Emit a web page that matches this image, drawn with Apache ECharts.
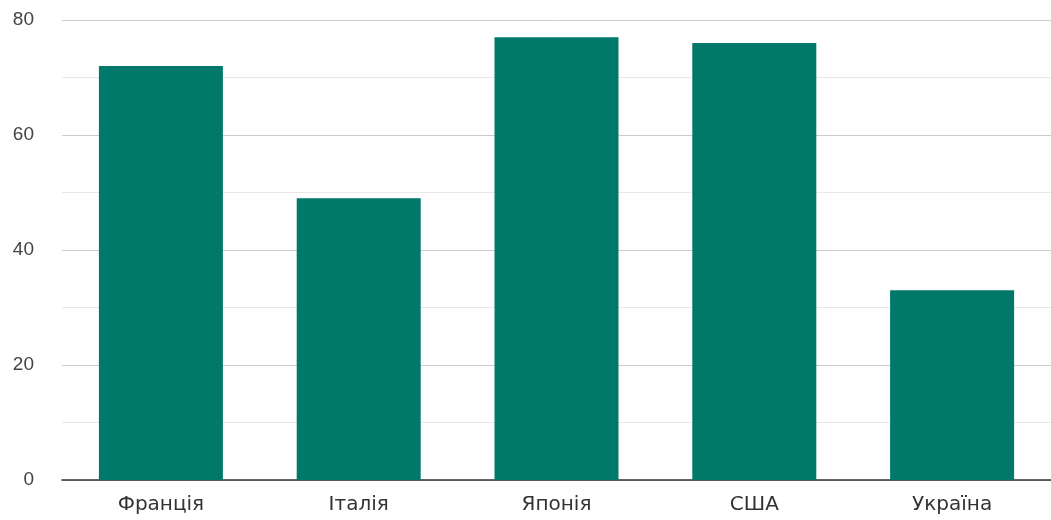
<!DOCTYPE html>
<html>
<head>
<meta charset="utf-8">
<script src="https://cdn.jsdelivr.net/npm/echarts@6/dist/echarts.min.js"></script>
<style>
  html, body { margin: 0; padding: 0; background: #fff; }
  #chart { width: 1051px; height: 520px; }
</style>
</head>
<body>
<div id="chart"></div>
<script>
  var categories = ['Франція', 'Італія', 'Японія', 'США', 'Україна'];
  var values = [72, 49, 77, 76, 33];

  var myChart = echarts.init(document.getElementById('chart'));
  myChart.setOption({
    animation: false,
    grid: { left: 62, width: 996, top: 20, bottom: 40 },
    xAxis: {
      type: 'category',
      data: categories,
      axisTick: { show: false },
      axisLine: { lineStyle: { color: '#333', width: 1.5 } },
      axisLabel: {
        color: '#333',
        fontSize: 20,
        fontFamily: 'DejaVu Sans, sans-serif',
        margin: 15
      }
    },
    yAxis: {
      type: 'value',
      min: 0,
      max: 80,
      interval: 20,
      axisLine: { show: false },
      axisTick: { show: false },
      axisLabel: {
        color: '#444',
        fontSize: 19,
        fontFamily: 'Liberation Sans, Arial, sans-serif',
        margin: 28
      },
      splitLine: { lineStyle: { color: '#cccccc', width: 1 } },
      minorTick: { show: false, splitNumber: 2 },
      minorSplitLine: { show: true, lineStyle: { color: '#e8e8e8', width: 1 } }
    },
    series: [{
      type: 'bar',
      data: values,
      barWidth: 124,
      itemStyle: { color: '#00796b' }
    }]
  });
</script>
</body>
</html>
